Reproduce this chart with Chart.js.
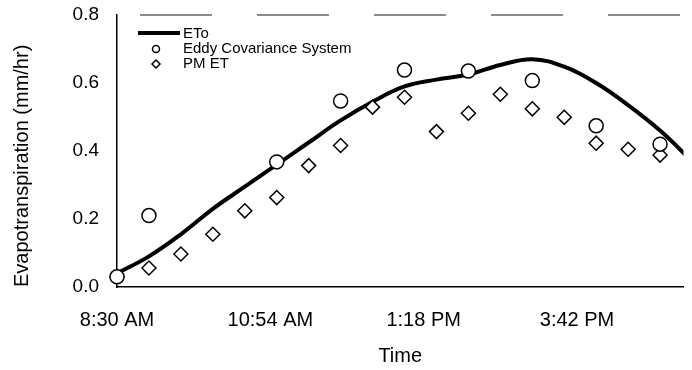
<!DOCTYPE html>
<html>
<head>
<meta charset="utf-8">
<script src="https://cdn.jsdelivr.net/npm/chart.js@4/dist/chart.umd.min.js"></script>
<style>
  html, body { margin: 0; padding: 0; background: #fff; }
  #wrap { width: 692px; height: 370px; }
</style>
</head>
<body>
<div id="wrap"><canvas id="grafico"></canvas></div>
<script>
// ETo (smooth line), every 30 min
var etoTimes = ["8:30", "9:00", "9:30", "10:00", "10:30", "11:00", "11:30", "12:00", "12:30", "13:00",
                "13:30", "14:00", "14:30", "15:00", "15:30", "16:00", "16:30", "17:00", "17:30"];
var etoValues = [0.04, 0.09, 0.155, 0.23, 0.295, 0.36, 0.425, 0.49, 0.545, 0.59,
                 0.61, 0.625, 0.653, 0.67, 0.648, 0.60, 0.535, 0.46, 0.37];

// Eddy Covariance System (circles)
var ecTimes = ["8:30", "9:00", "11:00", "12:00", "13:00", "14:00", "15:00", "16:00", "17:00"];
var ecValues = [0.03, 0.21, 0.368, 0.547, 0.638, 0.635, 0.607, 0.474, 0.42];

// PM ET (diamonds)
var pmTimes = ["8:30", "9:00", "9:30", "10:00", "10:30", "11:00", "11:30", "12:00", "12:30", "13:00",
               "13:30", "14:00", "14:30", "15:00", "15:30", "16:00", "16:30", "17:00"];
var pmValues = [0.03, 0.056, 0.097, 0.155, 0.224, 0.263, 0.357, 0.416, 0.529, 0.558,
                0.457, 0.511, 0.567, 0.524, 0.499, 0.423, 0.405, 0.388];

// eixo x
var tickTimes = ["8:30", "10:54", "13:18", "15:42"];
var tickLabels = ["8:30 AM", "10:54 AM", "1:18 PM", "3:42 PM"];
var xMin = "8:30";
var xMax = "17:22";

var yTicks = [0.0, 0.2, 0.4, 0.6, 0.8];

function minutos(t) {
    var p = t.split(":");
    return parseInt(p[0]) * 60 + parseInt(p[1]);
}

function pontos(tempos, valores) {
    var out = [];
    for (var i = 0; i < tempos.length; i++) {
        out.push({ x: minutos(tempos[i]), y: valores[i] });
    }
    return out;
}

var fonte = "'Liberation Sans', Arial, sans-serif";

// borda de cima (tracejada) + legenda dentro da area do grafico
var legendaPlugin = {
    id: "legendaInterna",
    beforeDatasetsDraw: function (chart) {
        var ctx = chart.ctx;
        var area = chart.chartArea;
        ctx.save();
        ctx.strokeStyle = "#666";
        ctx.lineWidth = 1.5;
        ctx.setLineDash([72, 45]);
        ctx.beginPath();
        ctx.moveTo(area.left + 23, area.top);
        ctx.lineTo(area.right, area.top);
        ctx.stroke();
        ctx.restore();
    },
    afterDraw: function (chart) {
        var ctx = chart.ctx;
        ctx.save();
        ctx.fillStyle = "#000";
        ctx.strokeStyle = "#000";
        ctx.font = "15px " + fonte;
        ctx.textBaseline = "middle";

        // ETo
        ctx.lineWidth = 4;
        ctx.beginPath();
        ctx.moveTo(138, 33);
        ctx.lineTo(180, 33);
        ctx.stroke();
        ctx.fillText(chart.data.datasets[0].label, 183, 34);

        // circulo
        ctx.lineWidth = 1.5;
        ctx.beginPath();
        ctx.arc(156, 49, 3.5, 0, Math.PI * 2);
        ctx.stroke();
        ctx.fillText(chart.data.datasets[1].label, 183, 49);

        // losango
        ctx.beginPath();
        ctx.moveTo(156, 60);
        ctx.lineTo(160, 64);
        ctx.lineTo(156, 68);
        ctx.lineTo(152, 64);
        ctx.closePath();
        ctx.stroke();
        ctx.fillText(chart.data.datasets[2].label, 183, 64);

        ctx.restore();
    }
};

const ctx1 = document.getElementById("grafico");

new Chart(ctx1, {
    type: "scatter",
    data: {
        datasets: [{
            label: "ETo",
            data: pontos(etoTimes, etoValues),
            showLine: true,
            borderColor: "#000",
            borderWidth: 4,
            tension: 0.4,
            pointRadius: 0,
            order: 3
        }, {
            label: "Eddy Covariance System",
            data: pontos(ecTimes, ecValues),
            pointStyle: "circle",
            pointRadius: 7,
            backgroundColor: "#fff",
            borderColor: "#000",
            borderWidth: 1.5,
            clip: false,
            order: 1
        }, {
            label: "PM ET",
            data: pontos(pmTimes, pmValues),
            pointStyle: "rectRot",
            pointRadius: 7,
            backgroundColor: "#fff",
            borderColor: "#000",
            borderWidth: 1.5,
            clip: false,
            order: 2
        }]
    },
    options: {
        responsive: true,
        maintainAspectRatio: false,
        animation: false,
        layout: { padding: { top: 15, right: 0, left: 0, bottom: 0 } },
        plugins: {
            legend: { display: false },
            tooltip: { enabled: false }
        },
        scales: {
            x: {
                type: "linear",
                min: minutos(xMin),
                max: minutos(xMax),
                afterBuildTicks: function (scale) {
                    scale.ticks = tickTimes.map(function (t) { return { value: minutos(t) }; });
                },
                afterFit: function (scale) { scale.height = 83; },
                grid: { display: false, drawTicks: false },
                border: { display: true, color: "#000", width: 1.5, dash: [100, 18] },
                ticks: {
                    color: "#000",
                    font: { family: fonte, size: 20 },
                    padding: 21,
                    maxRotation: 0,
                    autoSkip: false,
                    callback: function (value, index) { return tickLabels[index]; }
                },
                title: {
                    display: true,
                    text: "Time",
                    color: "#000",
                    font: { family: fonte, size: 20 },
                    padding: { top: 4, bottom: 2 }
                }
            },
            y: {
                min: 0,
                max: 0.8,
                afterBuildTicks: function (scale) {
                    scale.ticks = yTicks.map(function (v) { return { value: v }; });
                },
                afterFit: function (scale) { scale.width = 117; },
                grid: { display: false, drawTicks: true, tickLength: 18 },
                border: { display: true, color: "#000", width: 1.5 },
                ticks: {
                    color: "#000",
                    font: { family: fonte, size: 19 },
                    padding: 0,
                    callback: function (value) { return value.toFixed(1); }
                },
                title: {
                    display: true,
                    text: "Evapotranspiration (mm/hr)",
                    align: "start",
                    color: "#000",
                    font: { family: fonte, size: 20 },
                    padding: { top: 10, bottom: 0 }
                }
            }
        }
    },
    plugins: [legendaPlugin]
});
</script>
</body>
</html>
